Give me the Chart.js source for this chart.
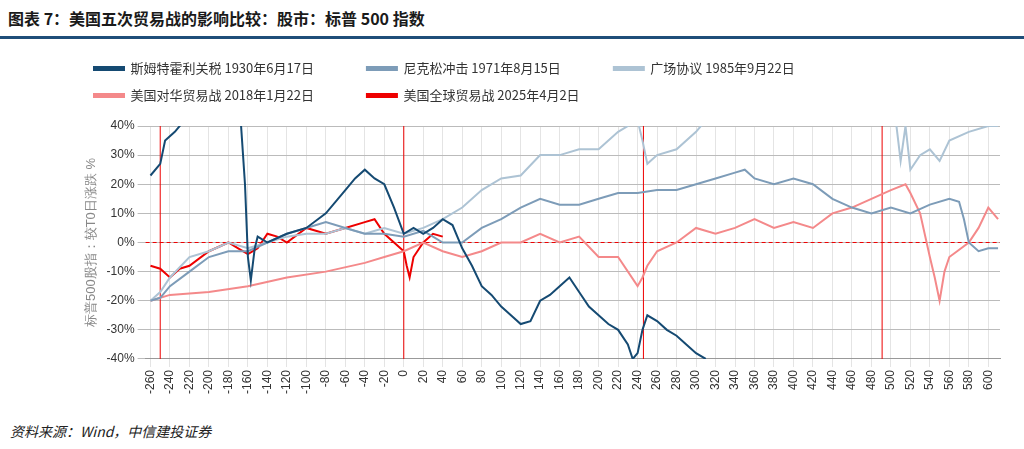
<!DOCTYPE html>
<html><head><meta charset="utf-8">
<script src="https://cdn.jsdelivr.net/npm/chart.js@4"></script>
<style>
body{margin:0;width:1024px;height:449px;background:#fff;font-family:"Noto Sans CJK SC","Noto Sans",sans-serif;overflow:hidden}
#title{position:absolute;left:8px;top:6px;font-size:16px;font-weight:bold;color:#1a1a1a}
#rule{position:absolute;left:0;top:36px;width:1024px;height:3px;background:#1f4e79}
#foot{position:absolute;left:10px;top:421px;font-size:14px;font-style:italic;color:#222}
#wrap{position:absolute;left:0;top:48px;width:1010px;height:349px}
</style></head><body>
<div id="title">图表 7：美国五次贸易战的影响比较：股市：标普 500 指数</div>
<div id="rule"></div>
<div id="wrap"><canvas id="c"></canvas></div>
<div id="foot">资料来源：Wind，中信建投证券</div>
<script>
const seriesNames=["斯姆特霍利关税 1930年6月17日","尼克松冲击 1971年8月15日","广场协议 1985年9月22日","美国对华贸易战 2018年1月22日","美国全球贸易战 2025年4月2日"];
const colors=["#154a72","#7d9cb8","#adc3d4","#f4898a","#ee0000"];
const x1=[-260,-250,-245,-235,-225,-215,-200,-180,-168,-163,-160,-157,-153,-150,-140,-120,-100,-80,-60,-50,-40,-30,-20,-10,0,10,20,30,40,50,60,70,80,90,100,110,120,130,140,150,160,170,180,190,200,210,220,230,235,240,245,250,260,270,280,290,300,310];
const y1=[23,27,35,38,42,45,50,50,45,20,-5,-13,-2,2,0,3,5,10,18,22,25,22,20,12,3,5,3,5,8,6,-2,-8,-15,-18,-22,-25,-28,-27,-20,-18,-15,-12,-17,-22,-25,-28,-30,-35,-40,-38,-30,-25,-27,-30,-32,-35,-38,-40];
const x2=[-260,-250,-240,-220,-200,-180,-160,-140,-120,-100,-80,-60,-40,-20,0,20,40,60,80,100,120,140,160,180,200,220,240,260,280,300,320,340,350,360,380,400,420,440,460,480,500,520,540,560,570,575,580,590,600,610];
const y2=[-20,-19,-15,-10,-5,-3,-3,0,3,5,7,5,3,3,2,4,0,0,5,8,12,15,13,13,15,17,17,18,18,20,22,24,25,22,20,22,20,15,12,10,12,10,13,15,14,8,0,-3,-2,-2];
const x3=[-260,-250,-240,-220,-200,-180,-160,-140,-120,-100,-80,-60,-40,-20,0,20,40,60,80,100,120,140,160,180,200,220,240,245,250,260,280,300,310,320,400,500,505,510,515,520,530,540,550,560,580,600,610];
const y3=[-20,-17,-12,-5,-3,0,-2,0,2,3,3,5,3,5,3,5,8,12,18,22,23,30,30,32,32,38,42,35,27,30,32,38,42,50,55,50,42,28,40,25,30,32,28,35,38,40,40];
const x4=[-260,-240,-200,-160,-120,-80,-40,-20,0,20,40,60,80,100,120,140,160,180,200,220,240,245,250,260,280,300,320,340,360,380,400,420,440,460,480,500,515,520,530,540,545,550,555,560,580,590,600,610];
const y4=[-20,-18,-17,-15,-12,-10,-7,-5,-3,0,-3,-5,-3,0,0,3,0,2,-5,-5,-15,-12,-8,-3,0,5,3,5,8,5,7,5,10,12,15,18,20,17,10,-5,-12,-20,-10,-5,0,5,12,8];
const x5=[-260,-250,-240,-230,-220,-200,-180,-170,-160,-150,-140,-130,-120,-100,-80,-60,-40,-30,-20,-10,0,3,6,10,20,30,40];
const y5=[-8,-9,-12,-9,-8,-3,0,-2,-4,-2,3,2,0,5,3,5,7,8,3,0,-3,-8,-12,-5,0,3,2];
const xTicks=[];for(let v=-260;v<=600;v+=20)xTicks.push(v);
const eventLines=[-250,0,246,491];
const xs=[x1,x2,x3,x4,x5],ys=[y1,y2,y3,y4,y5];
const datasets=seriesNames.map((n,i)=>({label:n,data:xs[i].map((x,j)=>({x,y:ys[i][j]})),borderColor:colors[i],backgroundColor:colors[i],borderWidth:2,pointRadius:0,tension:0}));
const vplug={id:'v',beforeDatasetsDraw(ch){const {ctx,chartArea:a,scales:{x,y}}=ch;ctx.save();ctx.strokeStyle='#e00';ctx.lineWidth=1;
eventLines.forEach(v=>{const px=x.getPixelForValue(v);ctx.beginPath();ctx.moveTo(px,a.top);ctx.lineTo(px,a.bottom);ctx.stroke();});
ctx.setLineDash([4,3]);const py=y.getPixelForValue(0);ctx.beginPath();ctx.moveTo(a.left,py);ctx.lineTo(a.right,py);ctx.stroke();ctx.restore();}};
const legendGap={id:'lg',beforeInit(ch){const f=ch.legend.fit;ch.legend.fit=function(){f.bind(ch.legend)();this.height+=14;};}};
new Chart(document.getElementById('c'),{type:'line',data:{datasets},plugins:[vplug,legendGap],
options:{responsive:true,maintainAspectRatio:false,animation:false,
layout:{padding:{left:80,right:10}},
plugins:{legend:{align:'start',labels:{boxWidth:30,boxHeight:3,font:{size:13,family:'"Noto Sans CJK SC"'},color:'#333',padding:14,
generateLabels:ch=>Chart.defaults.plugins.legend.labels.generateLabels(ch).map(l=>({...l,text:l.text+'\u3000\u3000\u3000'}))}},tooltip:{enabled:false}},
scales:{x:{type:'linear',min:-265,max:612,afterBuildTicks:s=>{s.ticks=xTicks.map(v=>({value:v}));},
ticks:{maxRotation:90,minRotation:90,font:{size:12},color:'#333',autoSkip:false},grid:{color:'#e4e4e4',drawTicks:true},border:{color:'#999'}},
y:{min:-40,max:40,ticks:{stepSize:10,callback:v=>v+'%',font:{size:12},color:'#333'},grid:{color:'#bbb',borderDash:[3,3]},border:{display:false},
title:{display:true,text:'标普500股指：较T0日涨跌 %',color:'#888',font:{size:13}}}}}});
</script></body></html>
